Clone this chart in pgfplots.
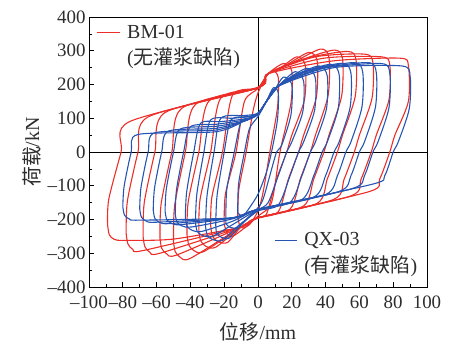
\documentclass[border=0pt]{standalone}
\usepackage{fontspec}
\setmainfont{Liberation Serif}
\newfontfamily\cjk{Noto Sans CJK SC}
\usepackage{pgfplots}
\pgfplotsset{compat=1.18}
\definecolor{myred}{RGB}{236,45,40}
\definecolor{myblue}{RGB}{38,84,178}
\definecolor{txt}{RGB}{45,45,45}
\begin{document}
\begin{tikzpicture}[font=\fontsize{20}{24}\selectfont]
\begin{axis}[
  at={(0,0)}, anchor=south west,
  scale only axis, width=338bp, height=270bp,
  xmin=-100, xmax=100, ymin=-400, ymax=400,
  xtick={-100,-80,...,100},
  xticklabels={–100,–80,–60,–40,–20,0,20,40,60,80,100},
  ytick={-400,-300,...,400},
  yticklabels={–400,–300,–200,–100,0,100,200,300,400},
  minor x tick num=1, minor y tick num=1,
  tick align=inside, xtick pos=bottom, ytick pos=left,
  major tick length=5bp, minor tick length=3bp,
  tick style={black, line width=0.7pt},
  axis line style={black, line width=0.8pt},
  tick label style={font=\fontsize{19}{23}\selectfont, text=txt},
  label style={font=\fontsize{20}{24}\selectfont, text=txt},
  xticklabel style={yshift=-5bp},
  xlabel style={yshift=-7bp},
  xlabel={{\cjk 位移}/mm},
  ylabel={{\cjk 荷载}/kN},
  rd/.style={color=myred, line width=1.1pt, smooth, tension=0.45},
  bl/.style={color=myblue, line width=1.1pt, smooth, tension=0.45},
]
\draw[black, line width=0.8pt] (axis cs:0,-400) -- (axis cs:0,400);
\draw[black, line width=0.8pt] (axis cs:-100,0) -- (axis cs:100,0);
% ---- BM-01 (red) ----
\addplot[rd] coordinates {(-12,-190) (-11.3,-110) (-7,0) (-3,120) (0,175) (5,225) (9,240) (12,220) (11.5,130) (7,0) (3,-120) (0,-175) (-5,-215) (-9,-225) (-11,-215) (-12,-190)};
\addplot[rd] coordinates {(-20,-215) (-19.3,-125) (-13,0) (-8,150) (0,188) (6,232) (15,262) (20,240) (19.5,145) (13,0) (8,-150) (0,-190) (-8,-225) (-15,-250) (-18,-243) (-20,-215)};
\addplot[rd] coordinates {(-28,-218) (-27.3,-134) (-21,0) (-15,169) (0,190) (6,232) (14,252) (23,282) (28,257) (27.5,155) (20,50) (17,0) (11,-80) (5,-184) (0,-195) (-10,-222) (-18,-268) (-24,-265) (-27,-248) (-28,-218)};
\addplot[rd] coordinates {(-35,-232) (-34.3,-141) (-28,0) (-22,160) (0,190) (6,232) (17.5,260) (30,295) (35,270) (34.5,162) (27,50) (24,0) (18,-80) (12,-177) (0,-195) (-10,-222) (-25,-282) (-31,-279) (-34,-262) (-35,-232)};
\addplot[rd] coordinates {(-42,-245) (-41.3,-148) (-35,0) (-29,151) (0,190) (6,232) (21,266) (37,305) (42,280) (41.5,168) (34,50) (31,0) (25,-80) (19,-169) (0,-195) (-10,-222) (-32,-295) (-38,-292) (-41,-275) (-42,-245)};
\addplot[rd] coordinates {(-50,-265) (-49.3,-158) (-43,0) (-37,141) (0,190) (6,232) (25,272) (45,302) (50,277) (49.5,166) (42,50) (39,0) (33,-80) (27,-160) (0,-195) (-10,-222) (-40,-315) (-46,-312) (-49,-295) (-50,-265)};
\addplot[rd] coordinates {(-58,-255) (-57.3,-153) (-51,0) (-45,130) (0,190) (6,232) (29,278) (53,298) (58,273) (57.5,164) (50,50) (47,0) (41,-80) (35,-152) (0,-195) (-10,-222) (-48,-305) (-54,-302) (-57,-285) (-58,-255)};
\addplot[rd] coordinates {(-68,-250) (-67.3,-150) (-61,0) (-55,117) (0,190) (6,232) (34,282) (63,290) (68,265) (67.5,160) (60,50) (57,0) (51,-80) (45,-140) (0,-195) (-10,-222) (-58,-300) (-64,-297) (-67,-280) (-68,-250)};
\addplot[rd] coordinates {(-78,-242) (-77.3,-146) (-71,0) (-65,104) (0,190) (6,232) (39,278) (73,282) (78,257) (77.5,155) (70,50) (67,0) (61,-80) (55,-130) (0,-195) (-10,-222) (-68,-292) (-74,-289) (-77,-272) (-78,-242)};
\addplot[rd] coordinates {(-89,-215) (-88.3,-140) (-81,0) (-76,90) (0,192) (6,232) (44.5,270) (84,278) (89,255) (89,150) (81,50) (78,0) (72,-80) (66,-117) (0,-195) (-10,-222) (-50,-258) (-79,-262) (-85,-259) (-88,-245) (-89,-215)};
% ---- QX-03 (blue) ----
\addplot[bl] coordinates {(-12,-180) (-11.5,-95) (-8,0) (-5,70) (0,105) (5,150) (9,190) (12,175) (11.5,95) (8,0) (5,-60) (0,-125) (-5,-165) (-9,-190) (-12,-180)};
\addplot[bl] coordinates {(-19,-212) (-18.5,-112) (-14,0) (-10,90) (-4,100) (0,112) (5,150) (10,185) (15,222) (20,200) (19.5,110) (14,20) (11,0) (7,-70) (3,-140) (0,-165) (-6,-195) (-12,-225) (-17,-222) (-19,-212)};
\addplot[bl] coordinates {(-25,-215) (-24.2,-128) (-20,0) (-16,95) (-6,105) (0,115) (5,150) (12,195) (22,238) (27,210) (26.5,119) (20,30) (17,0) (12,-70) (6,-150) (0,-172) (-10,-215) (-17,-255) (-22,-252) (-24.5,-240) (-25,-215)};
\addplot[bl] coordinates {(-31,-222) (-30.2,-131) (-26,0) (-22,100) (-8,108) (0,115) (5,150) (12,195) (17,215) (29,248) (34,218) (33.5,124) (27,30) (24,0) (19,-70) (12,-157) (0,-175) (-12,-220) (-21,-262) (-27,-259) (-30,-247) (-31,-222)};
\addplot[bl] coordinates {(-37,-210) (-36.2,-125) (-32,0) (-28,95) (-15,100) (-5,105) (0,115) (5,150) (12,195) (20.5,224) (36,255) (41,225) (40.5,128) (34,30) (31,0) (26,-70) (19,-149) (0,-172) (-15,-215) (-27,-250) (-33,-247) (-36,-235) (-37,-210)};
\addplot[bl] coordinates {(-43,-195) (-42.2,-118) (-38,0) (-34,85) (-22,90) (-8,98) (0,112) (5,150) (12,195) (24,232) (43,260) (48,230) (47.5,130) (41,30) (38,0) (33,-70) (26,-141) (0,-170) (-15,-205) (-33,-235) (-39,-232) (-42,-220) (-43,-195)};
\addplot[bl] coordinates {(-49,-182) (-48.2,-111) (-44,0) (-40,75) (-25,82) (-8,95) (0,112) (5,150) (12,195) (27.5,238) (50,263) (55,233) (54.5,132) (48,30) (45,0) (40,-70) (33,-134) (0,-170) (-15,-198) (-39,-222) (-45,-219) (-48,-207) (-49,-182)};
\addplot[bl] coordinates {(-55,-175) (-54.2,-108) (-50,0) (-46,68) (-25,76) (-8,92) (0,112) (5,150) (12,195) (31,242) (57,265) (62,235) (61.5,133) (55,30) (52,0) (47,-70) (40,-126) (0,-170) (-15,-195) (-45,-215) (-51,-212) (-54,-200) (-55,-175)};
\addplot[bl] coordinates {(-62,-172) (-61.2,-106) (-57,0) (-53,62) (-25,70) (-8,92) (0,112) (5,150) (12,195) (35,245) (65,265) (70,235) (69.5,133) (63,30) (60,0) (55,-70) (48,-117) (0,-170) (-15,-195) (-52,-212) (-58,-209) (-61,-197) (-62,-172)};
\addplot[bl] coordinates {(-70,-168) (-69.2,-104) (-65,0) (-61,57) (-25,65) (-8,92) (0,112) (5,150) (12,195) (39,248) (73,262) (78,232) (77.5,131) (71,30) (68,0) (63,-70) (56,-108) (0,-170) (-15,-195) (-60,-208) (-66,-205) (-69,-193) (-70,-168)};
\addplot[bl] coordinates {(-80,-162) (-79.2,-101) (-75,0) (-71,52) (-25,60) (-8,92) (0,112) (5,150) (12,195) (45,250) (85,255) (90,225) (89.5,128) (83,30) (80,0) (75,-70) (68,-95) (0,-170) (-15,-195) (-70,-202) (-76,-199) (-79,-187) (-80,-162)};
% ---- legends ----
\draw[myred, line width=1.1pt] (axis cs:-95.3,355) -- (axis cs:-81.7,355);
\node[anchor=west, text=txt, inner sep=0pt] at (axis cs:-77.5,355) {BM-01};
\node[anchor=west, text=txt, inner sep=0pt] at (axis cs:-77.5,278) {({\cjk 无灌浆缺陷})};
\draw[myblue, line width=1.1pt] (axis cs:10.1,-261) -- (axis cs:23.1,-261);
\node[anchor=west, text=txt, inner sep=0pt] at (axis cs:27.3,-261) {QX-03};
\node[anchor=west, text=txt, inner sep=0pt] at (axis cs:27.3,-338) {({\cjk 有灌浆缺陷})};
\end{axis}
\pgfresetboundingbox
\path[use as bounding box] (-89bp,-58bp) rectangle (363bp,287bp);
\end{tikzpicture}
\end{document}
